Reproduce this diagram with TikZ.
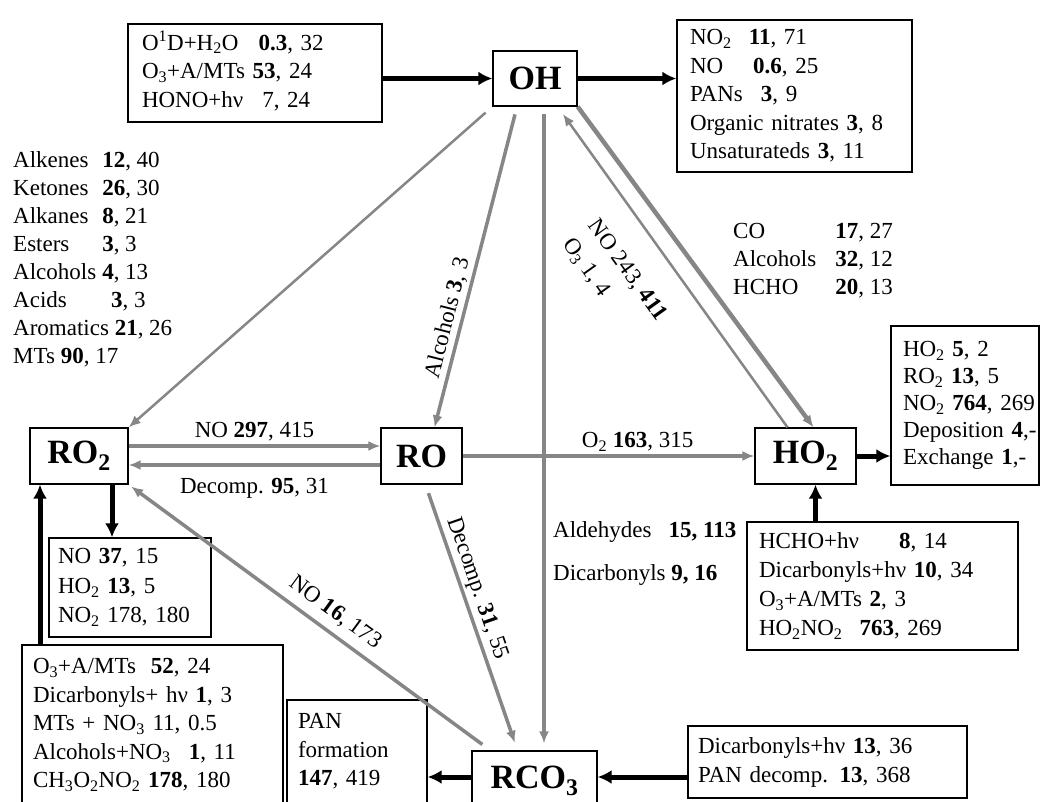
\documentclass[tikz,border=0pt]{standalone}
\usepackage{fontspec}
\setmainfont{Liberation Serif}
\usetikzlibrary{arrows.meta}
\definecolor{fluxgray}{RGB}{134,134,134}
\newcommand{\rows}[1]{\begin{tabular}{@{}l@{}}#1\end{tabular}}

\begin{document}
\begin{tikzpicture}[x=1pt,y=-1pt,
	species/.style={draw,line width=1.3pt,inner sep=0pt,font=\fontsize{34}{36}\selectfont\bfseries},
	databox/.style={draw,line width=1.3pt,inner ysep=0pt,font=\fontsize{23}{28.5}\selectfont},
	lst/.style={inner sep=0pt,anchor=west,font=\fontsize{23}{28}\selectfont},
	lbl/.style={inner sep=3pt,font=\fontsize{23}{28}\selectfont},
	feed/.style={line width=5pt,-{Latex[length=14pt,width=14pt]}},
	flux/.style={draw=fluxgray,line width=3.5pt,-{Latex[length=12pt,width=10pt]}},
	thinflux/.style={flux,line width=2.5pt}]
	\path[use as bounding box,fill=white] (0,0) rectangle (1041,801);

	% radicals
	\node[species,minimum width=84pt,minimum height=55pt] (OH) at (535,78.5) {OH};
	\node[species,minimum width=98pt,minimum height=56pt] (RO2) at (79,456) {RO\textsubscript{2}};
	\node[species,minimum width=81pt,minimum height=56pt] (RO) at (421.5,456) {RO};
	\node[species,minimum width=101pt,minimum height=56pt] (HO2) at (805.5,456) {HO\textsubscript{2}};
	\node[species,minimum width=125pt,minimum height=60pt] (RCO3) at (534.5,781) {RCO\textsubscript{3}};

	% sources and sinks
	\node[databox,inner xsep=14pt,text width=226pt,minimum height=98pt] (OHsrc) at (255,73)
		{\rows{O\textsuperscript{1}D+H\textsubscript{2}O\hspace{20pt}\textbf{0.3}, 32\\ O\textsubscript{3}+A/MTs \textbf{53}, 24\\ HONO+hν\hspace{19pt}7, 24}};
	\node[databox,inner xsep=13pt,text width=209pt,minimum height=152pt] (OHsink) at (794.5,96)
		{\rows{NO\textsubscript{2}\hspace{17pt}\textbf{11}, 71\\ NO\hspace{30pt}\textbf{0.6}, 25\\ PANs\hspace{18pt}\textbf{3}, 9\\ Organic nitrates \textbf{3}, 8\\ Unsaturateds \textbf{3}, 11}};
	\node[lst] (RO2voc) at (13,259.5) {\begin{tabular}{@{}l@{\hspace{6pt}}l@{}}
		Alkenes & \textbf{12}, 40\\ Ketones & \textbf{26}, 30\\ Alkanes & \textbf{8}, 21\\ Esters & \textbf{3}, 3\\
		Alcohols & \textbf{4}, 13\\ Acids & \hspace{9pt}\textbf{3}, 3\\
		\multicolumn{2}{@{}l@{}}{Aromatics \textbf{21}, 26}\\ \multicolumn{2}{@{}l@{}}{MTs \textbf{90}, 17}\end{tabular}};
	\node[lst] (HO2voc) at (733,261) {\begin{tabular}{@{}l@{\hspace{19pt}}l@{}}
		CO & \textbf{17}, 27\\ Alcohols & \textbf{32}, 12\\ HCHO & \textbf{20}, 13\end{tabular}};
	\node[databox,inner xsep=12pt,text width=124pt,minimum height=159pt,font=\fontsize{23}{27}\selectfont] (HO2sink) at (965,405.5)
		{\rows{HO\textsubscript{2} \textbf{5}, 2\\ RO\textsubscript{2} \textbf{13}, 5\\ NO\textsubscript{2} \textbf{764}, 269\\ Deposition \textbf{4},-\\ Exchange \textbf{1},-}};
	\node[databox,inner xsep=12pt,text width=247pt,minimum height=128pt,font=\fontsize{23}{29}\selectfont] (HO2src) at (882.5,586)
		{\rows{HCHO+hν\hspace{40pt}\textbf{8}, 14\\ Dicarbonyls+hν \textbf{10}, 34\\ O\textsubscript{3}+A/MTs \textbf{2}, 3\\ HO\textsubscript{2}NO\textsubscript{2}\hspace{17pt}\textbf{763}, 269}};
	\node[lst] (RCO3voc) at (553,553.5) {\rows{Aldehydes\hspace{17pt}\textbf{15, 113}\\[15pt] Dicarbonyls \textbf{9, 16}}};
	\node[databox,inner xsep=9pt,text width=144pt,minimum height=99pt,font=\fontsize{23}{29.5}\selectfont] (RO2sink) at (130,587.5)
		{\rows{NO \textbf{37}, 15\\ HO\textsubscript{2} \textbf{13}, 5\\ NO\textsubscript{2} 178, 180}};
	\node[databox,inner xsep=11pt,text width=239pt,minimum height=160pt] (RO2src) at (152.5,725)
		{\rows{O\textsubscript{3}+A/MTs\hspace{15pt}\textbf{52}, 24\\ Dicarbonyls+ hν \textbf{1}, 3\\ MTs + NO\textsubscript{3} 11, 0.5\\ Alcohols+NO\textsubscript{3}\hspace{18pt}\textbf{1}, 11\\ CH\textsubscript{3}O\textsubscript{2}NO\textsubscript{2} \textbf{178}, 180}};
	\node[databox,inner xsep=11pt,text width=118pt,minimum height=103pt] (PAN) at (357,751.5)
		{\rows{PAN\\ formation\\ \textbf{147}, 419}};
	\node[databox,inner xsep=10pt,text width=259pt,minimum height=72pt,font=\fontsize{23}{29}\selectfont] (RCO3src) at (827.5,762)
		{\rows{Dicarbonyls+hν \textbf{13}, 36\\ PAN decomp. \textbf{13}, 368}};

	% external fluxes
	\draw[feed] (OHsrc.east |- OH.west) -- (OH.west);
	\draw[feed] (OH.east) -- (OH.east -| OHsink.west);
	\draw[feed] (HO2.east) -- (HO2.east -| HO2sink.west);
	\draw[feed] ([xshift=10pt]HO2.south |- HO2src.north) -- ([xshift=10pt]HO2.south);
	\draw[feed] ([xshift=33pt]RO2.south) -- ([xshift=33pt]RO2.south |- RO2sink.north);
	\draw[feed] ([xshift=-39pt]RO2.south |- RO2src.north) -- ([xshift=-39pt]RO2.south);
	\draw[feed] ([yshift=4pt]RCO3.east -| RCO3src.west) -- ([yshift=4pt]RCO3.east);
	\draw[feed] ([yshift=4pt]RCO3.west) -- ([yshift=4pt]RCO3.west -| PAN.east);

	% radical conversions
	\draw[thinflux,shorten <=9pt] (OH.south west) -- (RO2.north east);
	\draw[flux,shorten <=8pt] ([xshift=-18pt]OH.south) -- node[lbl,sloped,above,pos=0.67] {Alcohols \textbf{3}, 3} ([xshift=13pt]RO.north);
	\draw[flux,shorten <=7pt,shorten >=7pt] ([xshift=9pt]OH.south) -- ([xshift=9.5pt]RCO3.north);
	\draw[flux,line width=4.5pt] (OH.south east) -- ([xshift=8pt]HO2.north);
	\draw[thinflux,shorten >=9pt] ([xshift=-18pt]HO2.north) -- node[lbl,sloped,below,pos=0.56,inner sep=24pt] {\rows{NO 243, \textbf{411}\\[3.5pt] O\textsubscript{3} 1, 4}} ([xshift=-20pt]OH.south east);
	\draw[flux] ([yshift=10pt]RO2.east) -- node[lbl,above] {NO \textbf{297}, 415} ([yshift=10pt]RO.west);
	\draw[flux] ([yshift=-9pt]RO.west) -- node[lbl,below,inner sep=12pt] {Decomp. \textbf{95}, 31} ([yshift=-9pt]RO2.east);
	\draw[flux] (RO.east) -- node[lbl,above,pos=0.6] {O\textsubscript{2} \textbf{163}, 315} (HO2.west);
	\draw[flux,shorten <=9pt,shorten >=8pt] ([xshift=4pt]RO.south) -- node[lbl,sloped,above,pos=0.41] {Decomp. \textbf{31}, 55} ([xshift=-17pt]RCO3.north);
	\draw[flux,shorten <=10pt,shorten >=3pt] ([xshift=19pt]RCO3.north west) -- node[lbl,sloped,above,pos=0.46,inner sep=8pt] {NO \textbf{16}, 173} (RO2.south east);
\end{tikzpicture}
\end{document}
